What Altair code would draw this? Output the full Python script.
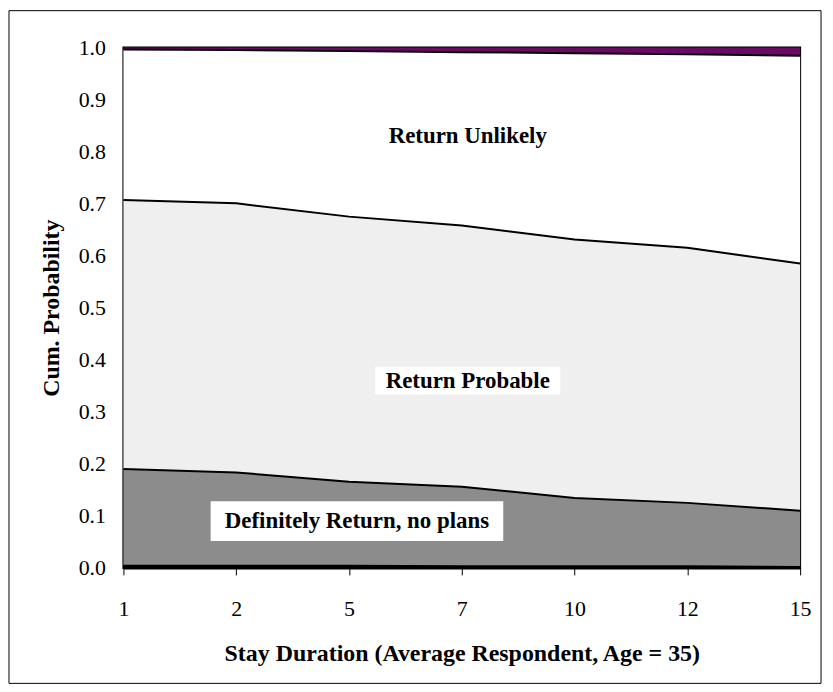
import altair as alt
import pandas as pd

durations = ["1", "2", "5", "7", "10", "12", "15"]
cum_with_plans = [0.004, 0.004, 0.004, 0.003, 0.003, 0.003, 0.002]
cum_no_plans = [0.190, 0.1835, 0.1655, 0.156, 0.1345, 0.125, 0.110]
cum_probable = [0.707, 0.7005, 0.675, 0.658, 0.631, 0.615, 0.585]
cum_unlikely = [0.996, 0.995, 0.993, 0.991, 0.989, 0.987, 0.984]
cum_top = [1.0] * 7

categories = ["Definitely Return, with plans", "Definitely Return, no plans",
              "Return Probable", "Return Unlikely", "Never Return"]
colors = ["#000000", "#8c8c8c", "#efefef", "#ffffff", "#6a0a64"]

label_texts = ["Return Unlikely", "Return Probable", "Definitely Return, no plans"]
label_x = ["7", "7", "5"]
label_y = [0.83, 0.36, 0.09]

FONT = "Liberation Serif"

bounds = [[0.0] * 7, cum_with_plans, cum_no_plans, cum_probable, cum_unlikely, cum_top]
rows = []
for ci, cat in enumerate(categories):
    for di, d in enumerate(durations):
        rows.append({"dur": d, "cat": cat, "lower": bounds[ci][di], "upper": bounds[ci + 1][di]})
area_df = pd.DataFrame(rows)

line_rows = []
for bi, name in enumerate(["with", "noplans", "probable", "unlikely"]):
    for di, d in enumerate(durations):
        line_rows.append({"dur": d, "b": name, "v": bounds[bi + 1][di]})
line_df = pd.DataFrame(line_rows)

lab_df = pd.DataFrame({"text": label_texts, "dur": label_x, "v": label_y})

x_enc = alt.X("dur:O", sort=durations, scale=alt.Scale(type="point", padding=0),
              axis=alt.Axis(title="Stay Duration (Average Respondent, Age = 35)",
                            labelAngle=0, tickSize=7, labelPadding=24,
                            titlePadding=22))
y_scale = alt.Scale(domain=[0, 1], nice=False, zero=True)

areas = alt.Chart(area_df).mark_area(opacity=1, interpolate="linear").encode(
    x=x_enc,
    y=alt.Y("lower:Q", scale=y_scale, stack=None,
            axis=alt.Axis(title="Cum. Probability", values=[i / 10 for i in range(11)],
                          format=".1f", ticks=False, labelPadding=18, titlePadding=15)),
    y2="upper:Q",
    color=alt.Color("cat:N", scale=alt.Scale(domain=categories, range=colors), legend=None),
    order=alt.Order("cat:N"),
)

lines = alt.Chart(line_df).mark_line(color="black", strokeWidth=2).encode(
    x=alt.X("dur:O", sort=durations),
    y=alt.Y("v:Q", scale=y_scale),
    detail="b:N",
)

base_lab = alt.Chart(lab_df).encode(
    x=alt.X("dur:O", sort=durations),
    y=alt.Y("v:Q", scale=y_scale),
)

box_prob = base_lab.transform_filter(alt.datum.text == "Return Probable").mark_rect(
    width=186, height=28, color="white", xOffset=6)
box_def = base_lab.transform_filter(alt.datum.text == "Definitely Return, no plans").mark_rect(
    width=294, height=40, color="white", xOffset=8)

texts = alt.layer(
    base_lab.transform_filter(alt.datum.text != "Definitely Return, no plans").mark_text(
        font=FONT, fontWeight="bold", fontSize=23, color="black", baseline="middle",
        align="center", dx=6).encode(text="text:N"),
    base_lab.transform_filter(alt.datum.text == "Definitely Return, no plans").mark_text(
        font=FONT, fontWeight="bold", fontSize=23, color="black", baseline="middle",
        align="center", dx=8).encode(text="text:N"),
)

frame = alt.Chart(pd.DataFrame({"a": [0]})).mark_rect(
    filled=False, stroke="black", strokeWidth=1).encode(
    x=alt.value(-115), x2=alt.value(701), y=alt.value(-37), y2=alt.value(639))

chart = alt.layer(areas, lines, box_prob, box_def, texts, frame).properties(
    width=680, height=523,
    autosize=alt.AutoSizeParams(type="none"),
    padding={"left": 116, "top": 38, "right": 25, "bottom": 122},
).configure_view(stroke="black", strokeWidth=2).configure_axis(
    grid=False, domainColor="black", domainWidth=2, tickColor="black",
    labelFont=FONT, titleFont=FONT, labelFontSize=22, titleFontSize=24,
    labelColor="black", titleColor="black", titleFontWeight="bold",
)

chart.save("out.html", embed_options={"renderer": "svg", "actions": False})
